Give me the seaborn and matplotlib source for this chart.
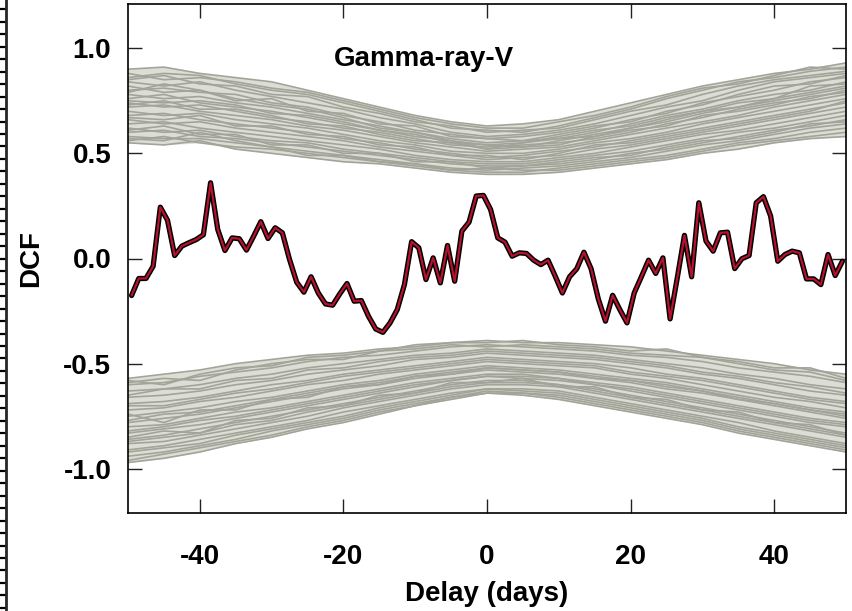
import numpy as np
import pandas as pd
import matplotlib
matplotlib.use("Agg")
import matplotlib.pyplot as plt
import seaborn as sns
from matplotlib.ticker import FixedLocator

# ---------------- data ----------------
delay = [-49.5 + i for i in range(100)]
dcf = [-0.176, -0.095, -0.095, -0.037, 0.244, 0.182, 0.014, 0.059, 0.075, 0.090,
       0.113, 0.360, 0.138, 0.038, 0.098, 0.094, 0.040, 0.106, 0.175, 0.095,
       0.146, 0.122, -0.005, -0.113, -0.160, -0.087, -0.164, -0.216, -0.222, -0.168,
       -0.119, -0.203, -0.200, -0.275, -0.335, -0.351, -0.306, -0.243, -0.124, 0.080,
       0.051, -0.100, 0.003, -0.116, 0.062, -0.108, 0.130, 0.173, 0.297, 0.300,
       0.233, 0.098, 0.078, 0.011, 0.027, 0.024, -0.008, -0.029, -0.008, -0.084,
       -0.164, -0.087, -0.049, 0.030, -0.049, -0.192, -0.298, -0.175, -0.243, -0.306,
       -0.164, -0.087, -0.008, -0.071, 0.003, -0.287, -0.092, 0.110, -0.087, 0.265,
       0.083, 0.035, 0.122, 0.125, -0.048, -0.001, 0.014, 0.265, 0.294, 0.202,
       -0.013, 0.019, 0.035, 0.027, -0.097, -0.097, -0.124, 0.019, -0.081, -0.013]

sim_delay = [-50, -45, -40, -35, -30, -25, -20, -15, -10, -5, 0,
             5, 10, 15, 20, 25, 30, 35, 40, 45, 50]

upper_sims = [
    [0.90, 0.91, 0.88, 0.86, 0.84, 0.80, 0.76, 0.72, 0.68, 0.65, 0.63, 0.64, 0.66, 0.70, 0.74, 0.78, 0.82, 0.85, 0.88, 0.90, 0.93],
    [0.86, 0.88, 0.87, 0.83, 0.80, 0.78, 0.74, 0.70, 0.66, 0.62, 0.61, 0.60, 0.63, 0.67, 0.71, 0.76, 0.80, 0.84, 0.86, 0.89, 0.91],
    [0.84, 0.82, 0.84, 0.80, 0.77, 0.74, 0.71, 0.67, 0.64, 0.60, 0.58, 0.59, 0.61, 0.64, 0.68, 0.72, 0.75, 0.80, 0.84, 0.86, 0.88],
    [0.80, 0.81, 0.79, 0.78, 0.74, 0.72, 0.68, 0.65, 0.61, 0.59, 0.57, 0.56, 0.59, 0.62, 0.66, 0.69, 0.74, 0.77, 0.80, 0.84, 0.86],
    [0.78, 0.76, 0.77, 0.74, 0.72, 0.69, 0.66, 0.63, 0.60, 0.57, 0.55, 0.56, 0.57, 0.60, 0.64, 0.68, 0.71, 0.75, 0.78, 0.80, 0.84],
    [0.76, 0.78, 0.74, 0.72, 0.70, 0.67, 0.64, 0.61, 0.58, 0.56, 0.54, 0.53, 0.56, 0.59, 0.62, 0.65, 0.69, 0.72, 0.76, 0.79, 0.82],
    [0.74, 0.72, 0.73, 0.70, 0.67, 0.65, 0.62, 0.60, 0.57, 0.54, 0.53, 0.54, 0.55, 0.57, 0.60, 0.64, 0.67, 0.71, 0.74, 0.76, 0.80],
    [0.72, 0.73, 0.70, 0.68, 0.66, 0.63, 0.61, 0.58, 0.55, 0.53, 0.51, 0.52, 0.53, 0.56, 0.59, 0.62, 0.65, 0.68, 0.72, 0.75, 0.78],
    [0.70, 0.68, 0.69, 0.66, 0.64, 0.62, 0.59, 0.56, 0.54, 0.51, 0.50, 0.50, 0.52, 0.55, 0.57, 0.60, 0.64, 0.67, 0.70, 0.73, 0.76],
    [0.68, 0.69, 0.66, 0.64, 0.62, 0.60, 0.57, 0.55, 0.52, 0.50, 0.48, 0.49, 0.51, 0.53, 0.56, 0.59, 0.62, 0.65, 0.68, 0.71, 0.74],
    [0.66, 0.64, 0.65, 0.62, 0.60, 0.58, 0.56, 0.53, 0.51, 0.49, 0.47, 0.48, 0.49, 0.52, 0.54, 0.57, 0.60, 0.63, 0.66, 0.69, 0.72],
    [0.64, 0.65, 0.62, 0.60, 0.58, 0.56, 0.54, 0.52, 0.49, 0.47, 0.46, 0.46, 0.48, 0.50, 0.53, 0.56, 0.59, 0.61, 0.64, 0.67, 0.70],
    [0.62, 0.60, 0.61, 0.58, 0.56, 0.55, 0.52, 0.50, 0.48, 0.46, 0.45, 0.45, 0.47, 0.49, 0.51, 0.54, 0.57, 0.60, 0.62, 0.65, 0.68],
    [0.60, 0.61, 0.58, 0.57, 0.55, 0.53, 0.51, 0.49, 0.47, 0.45, 0.44, 0.44, 0.45, 0.47, 0.50, 0.52, 0.55, 0.58, 0.61, 0.63, 0.66],
    [0.58, 0.57, 0.57, 0.55, 0.53, 0.51, 0.49, 0.47, 0.45, 0.43, 0.42, 0.43, 0.44, 0.46, 0.48, 0.51, 0.54, 0.56, 0.59, 0.62, 0.64],
    [0.56, 0.58, 0.55, 0.53, 0.52, 0.50, 0.48, 0.46, 0.44, 0.42, 0.41, 0.41, 0.43, 0.45, 0.47, 0.49, 0.52, 0.55, 0.57, 0.60, 0.62],
    [0.55, 0.54, 0.56, 0.52, 0.50, 0.48, 0.46, 0.45, 0.43, 0.41, 0.40, 0.40, 0.41, 0.43, 0.45, 0.47, 0.50, 0.52, 0.55, 0.57, 0.58],
    [0.82, 0.79, 0.80, 0.76, 0.73, 0.71, 0.67, 0.62, 0.60, 0.56, 0.52, 0.55, 0.58, 0.61, 0.63, 0.67, 0.70, 0.74, 0.76, 0.82, 0.83],
    [0.88, 0.85, 0.86, 0.84, 0.81, 0.79, 0.75, 0.71, 0.67, 0.64, 0.62, 0.62, 0.65, 0.68, 0.72, 0.77, 0.81, 0.83, 0.87, 0.91, 0.90],
    [0.79, 0.83, 0.80, 0.75, 0.76, 0.70, 0.69, 0.64, 0.63, 0.58, 0.57, 0.58, 0.60, 0.63, 0.65, 0.70, 0.73, 0.78, 0.82, 0.83, 0.87],
    [0.73, 0.75, 0.71, 0.71, 0.68, 0.64, 0.63, 0.59, 0.56, 0.55, 0.52, 0.53, 0.54, 0.58, 0.61, 0.63, 0.68, 0.70, 0.73, 0.77, 0.79],
    [0.67, 0.66, 0.68, 0.63, 0.63, 0.59, 0.58, 0.54, 0.53, 0.49, 0.49, 0.47, 0.50, 0.54, 0.55, 0.58, 0.61, 0.64, 0.67, 0.70, 0.75],
    [0.61, 0.63, 0.59, 0.59, 0.54, 0.54, 0.50, 0.50, 0.46, 0.46, 0.43, 0.44, 0.46, 0.48, 0.49, 0.53, 0.56, 0.57, 0.60, 0.64, 0.65],
    [0.57, 0.56, 0.60, 0.56, 0.53, 0.49, 0.49, 0.46, 0.45, 0.42, 0.43, 0.42, 0.42, 0.44, 0.46, 0.48, 0.51, 0.54, 0.56, 0.58, 0.60],
    [0.85, 0.87, 0.83, 0.82, 0.78, 0.77, 0.72, 0.69, 0.65, 0.63, 0.60, 0.61, 0.62, 0.66, 0.70, 0.73, 0.78, 0.82, 0.85, 0.87, 0.89],
    [0.75, 0.74, 0.75, 0.73, 0.69, 0.68, 0.65, 0.61, 0.59, 0.55, 0.54, 0.55, 0.57, 0.58, 0.62, 0.66, 0.70, 0.72, 0.75, 0.78, 0.81],
]

lower_sims = [
    [-0.57, -0.55, -0.53, -0.50, -0.48, -0.46, -0.45, -0.43, -0.42, -0.40, -0.39, -0.40, -0.40, -0.41, -0.42, -0.44, -0.46, -0.48, -0.50, -0.53, -0.55],
    [-0.60, -0.59, -0.56, -0.54, -0.52, -0.49, -0.47, -0.46, -0.44, -0.42, -0.41, -0.42, -0.43, -0.44, -0.46, -0.47, -0.49, -0.52, -0.54, -0.56, -0.59],
    [-0.63, -0.62, -0.60, -0.57, -0.55, -0.52, -0.50, -0.48, -0.46, -0.45, -0.43, -0.44, -0.45, -0.46, -0.48, -0.50, -0.52, -0.55, -0.57, -0.60, -0.62],
    [-0.66, -0.65, -0.63, -0.60, -0.58, -0.55, -0.53, -0.51, -0.48, -0.47, -0.45, -0.46, -0.47, -0.48, -0.50, -0.52, -0.55, -0.57, -0.60, -0.63, -0.65],
    [-0.69, -0.68, -0.66, -0.63, -0.60, -0.58, -0.55, -0.53, -0.51, -0.49, -0.47, -0.48, -0.49, -0.50, -0.52, -0.55, -0.57, -0.60, -0.63, -0.66, -0.68],
    [-0.72, -0.71, -0.68, -0.66, -0.63, -0.60, -0.58, -0.55, -0.53, -0.51, -0.49, -0.50, -0.51, -0.52, -0.55, -0.57, -0.60, -0.63, -0.66, -0.68, -0.71],
    [-0.75, -0.73, -0.71, -0.68, -0.66, -0.63, -0.60, -0.58, -0.55, -0.53, -0.51, -0.52, -0.53, -0.55, -0.57, -0.59, -0.62, -0.65, -0.68, -0.71, -0.73],
    [-0.78, -0.76, -0.74, -0.71, -0.68, -0.65, -0.62, -0.60, -0.57, -0.55, -0.53, -0.54, -0.55, -0.57, -0.59, -0.62, -0.64, -0.67, -0.70, -0.73, -0.76],
    [-0.80, -0.79, -0.76, -0.73, -0.71, -0.68, -0.65, -0.62, -0.59, -0.57, -0.55, -0.55, -0.57, -0.59, -0.61, -0.64, -0.67, -0.70, -0.73, -0.76, -0.78],
    [-0.83, -0.81, -0.79, -0.76, -0.73, -0.70, -0.67, -0.64, -0.61, -0.58, -0.56, -0.57, -0.58, -0.60, -0.63, -0.66, -0.69, -0.72, -0.75, -0.78, -0.80],
    [-0.86, -0.84, -0.81, -0.78, -0.75, -0.72, -0.69, -0.66, -0.63, -0.60, -0.58, -0.58, -0.60, -0.62, -0.65, -0.68, -0.71, -0.74, -0.77, -0.80, -0.83],
    [-0.88, -0.87, -0.84, -0.81, -0.78, -0.75, -0.71, -0.68, -0.65, -0.62, -0.60, -0.60, -0.61, -0.64, -0.67, -0.70, -0.73, -0.76, -0.79, -0.82, -0.85],
    [-0.91, -0.89, -0.86, -0.83, -0.80, -0.77, -0.73, -0.70, -0.67, -0.64, -0.62, -0.62, -0.63, -0.66, -0.69, -0.72, -0.75, -0.78, -0.82, -0.85, -0.88],
    [-0.94, -0.92, -0.89, -0.86, -0.82, -0.79, -0.76, -0.72, -0.69, -0.66, -0.63, -0.64, -0.65, -0.68, -0.71, -0.74, -0.77, -0.81, -0.84, -0.87, -0.90],
    [-0.97, -0.95, -0.92, -0.88, -0.85, -0.81, -0.78, -0.74, -0.70, -0.67, -0.64, -0.65, -0.67, -0.70, -0.73, -0.76, -0.79, -0.83, -0.86, -0.89, -0.92],
    [-0.58, -0.60, -0.55, -0.52, -0.51, -0.47, -0.46, -0.44, -0.41, -0.40, -0.40, -0.39, -0.41, -0.42, -0.44, -0.43, -0.47, -0.49, -0.52, -0.52, -0.57],
    [-0.74, -0.78, -0.72, -0.72, -0.67, -0.66, -0.61, -0.60, -0.56, -0.55, -0.52, -0.53, -0.54, -0.57, -0.58, -0.61, -0.63, -0.67, -0.69, -0.72, -0.75],
    [-0.85, -0.82, -0.83, -0.77, -0.76, -0.71, -0.70, -0.65, -0.64, -0.59, -0.59, -0.57, -0.61, -0.61, -0.66, -0.67, -0.72, -0.73, -0.78, -0.79, -0.84],
    [-0.59, -0.57, -0.58, -0.53, -0.50, -0.48, -0.48, -0.44, -0.43, -0.41, -0.42, -0.41, -0.42, -0.43, -0.45, -0.46, -0.47, -0.50, -0.53, -0.54, -0.58],
    [-0.65, -0.62, -0.62, -0.58, -0.57, -0.53, -0.52, -0.49, -0.47, -0.46, -0.44, -0.45, -0.46, -0.47, -0.49, -0.51, -0.54, -0.56, -0.59, -0.61, -0.64],
    [-0.70, -0.70, -0.67, -0.64, -0.62, -0.59, -0.56, -0.54, -0.52, -0.50, -0.48, -0.49, -0.50, -0.51, -0.54, -0.56, -0.58, -0.61, -0.64, -0.67, -0.69],
    [-0.77, -0.74, -0.73, -0.70, -0.67, -0.64, -0.61, -0.59, -0.56, -0.54, -0.52, -0.53, -0.54, -0.56, -0.58, -0.60, -0.63, -0.66, -0.69, -0.72, -0.74],
    [-0.82, -0.80, -0.77, -0.75, -0.72, -0.69, -0.66, -0.63, -0.60, -0.58, -0.56, -0.56, -0.57, -0.60, -0.62, -0.65, -0.68, -0.71, -0.74, -0.77, -0.79],
    [-0.87, -0.85, -0.83, -0.79, -0.77, -0.73, -0.70, -0.67, -0.64, -0.61, -0.59, -0.59, -0.60, -0.63, -0.66, -0.69, -0.72, -0.75, -0.78, -0.81, -0.84],
    [-0.92, -0.90, -0.88, -0.84, -0.81, -0.78, -0.75, -0.71, -0.68, -0.65, -0.62, -0.63, -0.64, -0.67, -0.70, -0.73, -0.76, -0.80, -0.83, -0.86, -0.89],
    [-0.96, -0.93, -0.90, -0.87, -0.84, -0.80, -0.77, -0.73, -0.70, -0.66, -0.64, -0.64, -0.66, -0.69, -0.72, -0.75, -0.78, -0.82, -0.85, -0.88, -0.91],
]

x_ticks = [-40, -20, 0, 20, 40]
y_ticks = [-1.0, -0.5, 0.0, 0.5, 1.0]
y_tick_labels = ["-1.0", "-0.5", "0.0", "0.5", "1.0"]
title_text = "Gamma-ray-V"
x_label = "Delay (days)"
y_label = "DCF"

# ---------------- style ----------------
sns.set_style("ticks")
plt.rcParams["font.family"] = ["Liberation Sans", "DejaVu Sans"]
plt.rcParams.update({
    "xtick.direction": "in", "ytick.direction": "in",
    "xtick.major.size": 10, "ytick.major.size": 10,
    "xtick.major.width": 1.0, "ytick.major.width": 1.0,
    "xtick.top": True, "ytick.right": True,
    "xtick.bottom": True, "ytick.left": True,
    "xtick.color": "#222222", "ytick.color": "#222222",
    "xtick.labelcolor": "black", "ytick.labelcolor": "black",
    "text.color": "black", "axes.labelcolor": "black",
})

GRAY = "#a3a499"
FILL = "#dcddd5"
FS = 20
WEIGHT = "bold"

fig = plt.figure(figsize=(8.52, 6.11), dpi=100)
ax = fig.add_axes([128 / 852, 1 - 513 / 611, (846 - 128) / 852, (513 - 4) / 611])

rows = []
for k, curve in enumerate(upper_sims):
    for xv, yv in zip(sim_delay, curve):
        rows.append(("u%d" % k, xv, yv))
for k, curve in enumerate(lower_sims):
    for xv, yv in zip(sim_delay, curve):
        rows.append(("l%d" % k, xv, yv))
sims = pd.DataFrame(rows, columns=["curve", "delay", "dcf"])

# faint envelope behind the simulated curves
up = np.array(upper_sims)
lo = np.array(lower_sims)
ax.fill_between(sim_delay, up.min(axis=0), up.max(axis=0), color=FILL, lw=0, zorder=1)
ax.fill_between(sim_delay, lo.min(axis=0), lo.max(axis=0), color=FILL, lw=0, zorder=1)

sns.lineplot(data=sims, x="delay", y="dcf", units="curve", estimator=None,
             color=GRAY, lw=1.2, ax=ax, legend=False, sort=False, zorder=2)

obs = pd.DataFrame({"delay": delay, "dcf": dcf})
sns.lineplot(data=obs, x="delay", y="dcf", color="black", lw=3.8, ax=ax,
             estimator=None, legend=False, zorder=3)
sns.lineplot(data=obs, x="delay", y="dcf", color="#b5122e", lw=1.6, ax=ax,
             estimator=None, legend=False, zorder=4)

ax.set_xlim(-50, 50)
ax.set_ylim(-1.21, 1.21)
ax.xaxis.set_major_locator(FixedLocator(x_ticks))
ax.set_xticklabels([str(t) for t in x_ticks])
ax.yaxis.set_major_locator(FixedLocator(y_ticks))
ax.set_yticklabels(y_tick_labels)
ax.tick_params(axis="both", which="major", direction="in", length=10, width=1.0,
               colors="#222222", labelcolor="black",
               top=True, right=True, bottom=True, left=True, labelsize=FS)
ax.tick_params(axis="x", pad=22)
ax.tick_params(axis="y", pad=12)
for lab in ax.get_xticklabels() + ax.get_yticklabels():
    lab.set_fontweight(WEIGHT)
for s in ax.spines.values():
    s.set_visible(True)
    s.set_linewidth(1.2)
    s.set_color("black")
    s.set_zorder(5)

ax.set_xlabel(x_label, fontsize=FS, labelpad=8, fontweight=WEIGHT, color="black")
ax.set_ylabel(y_label, fontsize=FS, labelpad=14, fontweight=WEIGHT, color="black")
ax.text(-8.8, 0.95, title_text, fontsize=FS, ha="center", va="center",
        fontweight=WEIGHT, color="black")

# stray axis strip at the left edge of the image
strip = fig.add_axes([0, 0, 6 / 852, 1])
strip.set_xlim(0, 1)
strip.set_ylim(611, 0)
for name in ["left", "top", "bottom"]:
    strip.spines[name].set_visible(False)
strip.spines["right"].set_linewidth(2)
strip.yaxis.set_major_locator(FixedLocator(np.arange(9.3, 611, 12.47)))
strip.tick_params(axis="y", direction="in", length=4, width=1.6, left=False,
                  right=True, labelleft=False, labelright=False, colors="black")
strip.tick_params(axis="x", bottom=False, top=False, labelbottom=False)
strip.patch.set_alpha(0)

fig.savefig("out.png", dpi=100)
